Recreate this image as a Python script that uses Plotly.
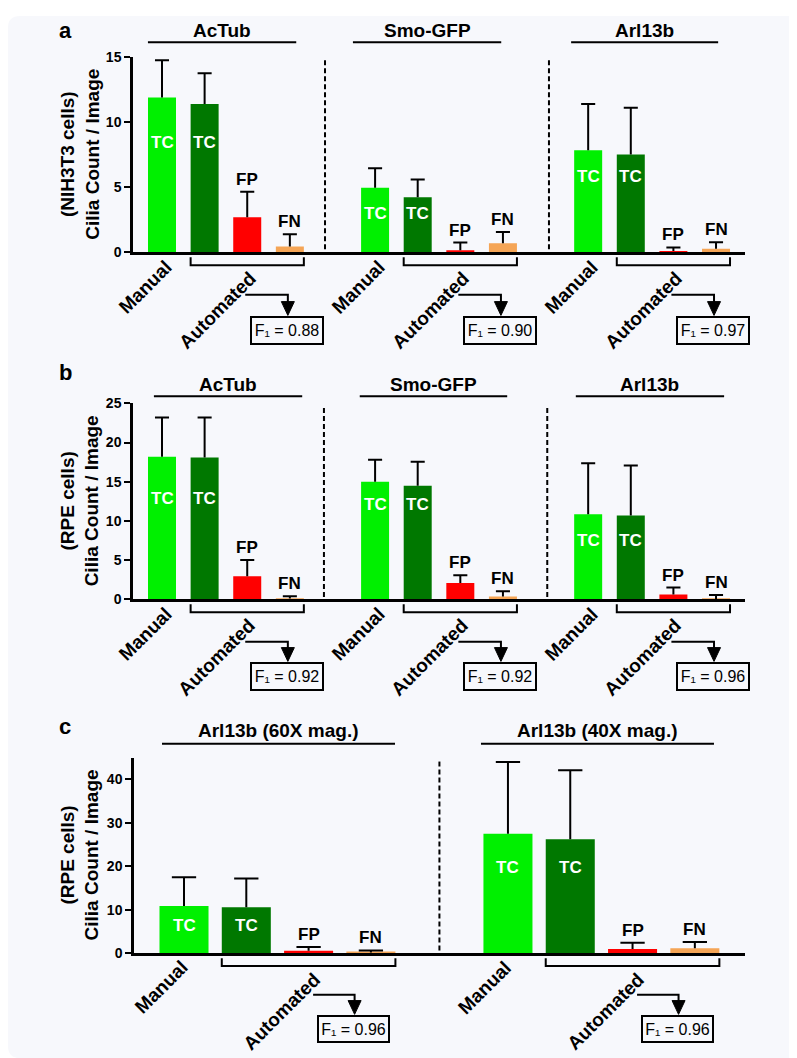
import plotly.graph_objects as go

W, H = 797, 1058
FONT = "Liberation Sans, Arial, sans-serif"

# ---------------- data ----------------
bar_labels = ["TC", "TC", "FP", "FN"]
bar_colors = ["#00f000", "#007800", "#ff0000", "#f5a556"]

nih_markers = ["AcTub", "Smo-GFP", "Arl13b"]
nih_actub = [11.9, 11.4, 2.7, 0.45]
nih_actub_err = [2.85, 2.35, 1.95, 0.95]
nih_smo = [4.97, 4.24, 0.17, 0.70]
nih_smo_err = [1.5, 1.35, 0.58, 0.86]
nih_arl = [7.84, 7.51, 0.10, 0.28]
nih_arl_err = [3.55, 3.6, 0.28, 0.5]
nih_f1 = ["0.88", "0.90", "0.97"]

rpe_markers = ["AcTub", "Smo-GFP", "Arl13b"]
rpe_actub = [18.2, 18.1, 2.93, 0.1]
rpe_actub_err = [5.0, 5.1, 2.1, 0.3]
rpe_smo = [15.0, 14.5, 2.1, 0.37]
rpe_smo_err = [2.8, 3.05, 0.97, 0.67]
rpe_arl = [10.86, 10.69, 0.63, 0.05]
rpe_arl_err = [6.5, 6.37, 0.88, 0.49]
rpe_f1 = ["0.92", "0.92", "0.96"]

mag_groups = ["Arl13b (60X mag.)", "Arl13b (40X mag.)"]
mag_60x = [10.9, 10.6, 0.6, 0.2]
mag_60x_err = [6.6, 6.6, 0.85, 0.45]
mag_40x = [27.5, 26.2, 1.0, 1.15]
mag_40x_err = [16.5, 15.9, 1.4, 1.45]
mag_f1 = ["0.96", "0.96"]

y_ticks_a = [0, 5, 10, 15]
y_ticks_b = [0, 5, 10, 15, 20, 25]
y_ticks_c = [0, 10, 20, 30, 40]

# ---------------- layout config ----------------
panels = [
    dict(letter="a", cells="(NIH3T3 cells)", groups=nih_markers,
         series=[(nih_actub, nih_actub_err), (nih_smo, nih_smo_err), (nih_arl, nih_arl_err)],
         f1=nih_f1, ticks=y_ticks_a, yr=(0, 15),
         xpx=(125, 737), ypx=(41.7, 240), xr=(-0.6805, 13.68),
         starts=[0, 5, 10], bw=0.657, cap=0.33, seps=[3.825, 9.08], sep_top=45,
         head_text_y=15, head_line_y=26.7,
         heads=[(-0.33, 3.15), (4.48, 7.96), (9.6, 13.05)],
         tc_y=[8.44, 3.0, 5.8], letter_xy=(57, 15),
         manual_d=(-17, 36), auto_d=(-30, 59), hline=(2, -2), arrow=(3, -2),
         arrow_dy=43, box_dy=79, box_h=28, box_w=66),
    dict(letter="b", cells="(RPE cells)", groups=rpe_markers,
         series=[(rpe_actub, rpe_actub_err), (rpe_smo, rpe_smo_err), (rpe_arl, rpe_arl_err)],
         f1=rpe_f1, ticks=y_ticks_b, yr=(0, 25),
         xpx=(125, 737), ypx=(393.3, 592.3), xr=(-0.6805, 13.68),
         starts=[0, 5, 10], bw=0.657, cap=0.33, seps=[3.80, 9.04], sep_top=398,
         head_text_y=374, head_line_y=386,
         heads=[(-0.19, 3.29), (4.64, 8.10), (9.71, 13.19)],
         tc_y=[12.9, 12.15, 7.55], letter_xy=(57, 362),
         manual_d=(-17, 36), auto_d=(-31, 59), hline=(2, -2), arrow=(3, -2),
         arrow_dy=43, box_dy=78, box_h=28, box_w=66),
    dict(letter="c", cells="(RPE cells)", groups=mag_groups,
         series=[(mag_60x, mag_60x_err), (mag_40x, mag_40x_err)],
         f1=mag_f1, ticks=y_ticks_c, yr=(0, 45),
         xpx=(126, 737), ypx=(753, 951.7), xr=(-0.8026, 9.005),
         starts=[0, 5.2], bw=0.787, cap=0.39, seps=[4.10], sep_top=757,
         head_text_y=725, head_line_y=739,
         heads=[(-0.353, 3.387), (4.767, 8.507)],
         tc_y=[6.3, 19.7], letter_xy=(57, 721),
         manual_d=(-23, 35), auto_d=(-27, 59), hline=(2, 4.5), arrow=(2, 46),
         arrow_dy=42, box_dy=76.5, box_h=27, box_w=65),
]


def xp(px):
    return px / W


def yp(py):
    return 1 - py / H


def make_X(p):
    x0p, x1p = p["xpx"]
    r0, r1 = p["xr"]
    return lambda v: x0p + (v - r0) / (r1 - r0) * (x1p - x0p)


fig = go.Figure()
annotations = []
shapes = []
layout = {}

# rounded card background
r = 12
cx0, cy0, cx1, cy1 = 0, 0, W, H
card = (f"M{xp(cx0 + r)},{yp(cy0)} L{xp(cx1 - r)},{yp(cy0)} Q{xp(cx1)},{yp(cy0)} {xp(cx1)},{yp(cy0 + r)} "
        f"L{xp(cx1)},{yp(cy1 - r)} Q{xp(cx1)},{yp(cy1)} {xp(cx1 - r)},{yp(cy1)} "
        f"L{xp(cx0 + r)},{yp(cy1)} Q{xp(cx0)},{yp(cy1)} {xp(cx0)},{yp(cy1 - r)} "
        f"L{xp(cx0)},{yp(cy0 + r)} Q{xp(cx0)},{yp(cy0)} {xp(cx0 + r)},{yp(cy0)} Z")
shapes.append(dict(type="path", xref="paper", yref="paper", path=card,
                   fillcolor="#f7f8fc", line=dict(width=0), layer="below"))


def bold(size, color="black"):
    return dict(family=FONT, size=size, color=color, weight="bold")


for i, p in enumerate(panels):
    sfx = "" if i == 0 else str(i + 1)
    xa, ya = "x" + sfx, "y" + sfx
    X = make_X(p)
    x0p, x1p = p["xpx"]
    ytop, zero = p["ypx"]
    r0, r1 = p["xr"]
    px_per_unit = (x1p - x0p) / (r1 - r0)
    bw_px = p["bw"] * px_per_unit

    layout["xaxis" + sfx] = dict(domain=[xp(x0p), xp(x1p)], range=[r0, r1], showline=True,
                                  linewidth=2.5, linecolor="black", showticklabels=False,
                                  ticks="", showgrid=False, zeroline=False, anchor=ya,
                                  fixedrange=True)
    layout["yaxis" + sfx] = dict(domain=[yp(zero), yp(ytop)], range=list(p["yr"]),
                                  tickvals=p["ticks"], ticks="outside", ticklen=6, tickwidth=2,
                                  tickcolor="black", showline=True, linewidth=2.5,
                                  linecolor="black", showgrid=False, zeroline=False,
                                  tickfont=bold(14), anchor=xa, fixedrange=True)

    for g, (vals, errs) in enumerate(p["series"]):
        s = p["starts"][g]
        xs = [s + k for k in range(4)]
        fig.add_trace(go.Bar(x=xs, y=vals, width=p["bw"],
                             marker=dict(color=bar_colors, line=dict(width=0)),
                             xaxis=xa, yaxis=ya, showlegend=False, hoverinfo="skip"))
        ex, ey = [], []
        for xv, v, e in zip(xs, vals, errs):
            ex += [xv, xv, None, xv - p["cap"] / 2, xv + p["cap"] / 2, None]
            ey += [v, v + e, None, v + e, v + e, None]
        fig.add_trace(go.Scatter(x=ex, y=ey, mode="lines", line=dict(color="black", width=2),
                                 xaxis=xa, yaxis=ya, showlegend=False, hoverinfo="skip"))
        # bar labels
        for k in range(4):
            if k < 2:
                annotations.append(dict(x=xs[k], y=p["tc_y"][g], xref=xa, yref=ya,
                                        text=bar_labels[k], showarrow=False,
                                        font=bold(17, "white"), xanchor="center",
                                        yanchor="middle"))
            else:
                annotations.append(dict(x=xs[k], y=vals[k] + errs[k], xref=xa, yref=ya,
                                        text=bar_labels[k], showarrow=False, font=bold(17),
                                        xanchor="center", yanchor="bottom", yshift=1))
        # group header
        h0, h1 = p["heads"][g]
        annotations.append(dict(x=xp((X(h0) + X(h1)) / 2), y=yp(p["head_text_y"]),
                                xref="paper", yref="paper", text=p["groups"][g],
                                showarrow=False, font=bold(19), xanchor="center",
                                yanchor="middle"))
        shapes.append(dict(type="line", xref="paper", yref="paper",
                           x0=xp(X(h0)), x1=xp(X(h1)),
                           y0=yp(p["head_line_y"]), y1=yp(p["head_line_y"]),
                           line=dict(color="black", width=2)))
        # rotated category labels
        annotations.append(dict(x=xp(X(s) + p["manual_d"][0]), y=yp(zero + p["manual_d"][1]),
                                xref="paper", yref="paper", text="Manual", textangle=-45,
                                showarrow=False, font=bold(19), xanchor="center",
                                yanchor="middle"))
        annotations.append(dict(x=xp(X(s + 2) + p["auto_d"][0]), y=yp(zero + p["auto_d"][1]),
                                xref="paper", yref="paper", text="Automated", textangle=-45,
                                showarrow=False, font=bold(19), xanchor="center",
                                yanchor="middle"))
        # bracket under automated bars
        bl = X(s + 1) - bw_px / 2
        br = X(s + 3) + bw_px / 2
        path = (f"M{xp(bl)},{yp(zero + 5)} L{xp(bl)},{yp(zero + 13)} "
                f"L{xp(br)},{yp(zero + 13)} L{xp(br)},{yp(zero + 5)}")
        shapes.append(dict(type="path", xref="paper", yref="paper", path=path,
                           line=dict(color="black", width=2)))
        # elbow arrow to F1 box
        ax_px = X(s + p["arrow"][0]) + p["arrow"][1]
        hl_px = X(s + p["hline"][0]) + p["hline"][1]
        ly = zero + p["arrow_dy"]
        box_top = zero + p["box_dy"] - p["box_h"] / 2
        elbow = (f"M{xp(hl_px)},{yp(ly)} L{xp(ax_px)},{yp(ly)} "
                 f"L{xp(ax_px)},{yp(box_top - 14)}")
        shapes.append(dict(type="path", xref="paper", yref="paper", path=elbow,
                           line=dict(color="black", width=2)))
        tri = (f"M{xp(ax_px - 6.5)},{yp(box_top - 15)} L{xp(ax_px + 6.5)},{yp(box_top - 15)} "
               f"L{xp(ax_px)},{yp(box_top - 1)} Z")
        shapes.append(dict(type="path", xref="paper", yref="paper", path=tri,
                           fillcolor="black", line=dict(color="black", width=1)))
        annotations.append(dict(x=xp(ax_px - 1), y=yp(zero + p["box_dy"]),
                                xref="paper", yref="paper",
                                text=f"F\u2081 = {p['f1'][g]}", showarrow=False,
                                font=dict(family=FONT, size=16, color="black"),
                                bordercolor="black", borderwidth=2, borderpad=2,
                                width=p["box_w"], height=p["box_h"] - 7,
                                xanchor="center", yanchor="middle"))

    # dashed separators
    for sp in p["seps"]:
        shapes.append(dict(type="line", xref="paper", yref="paper",
                           x0=xp(X(sp)), x1=xp(X(sp)), y0=yp(p["sep_top"]), y1=yp(zero),
                           line=dict(color="black", width=2, dash="5px,3px")))
    # y-axis title
    annotations.append(dict(x=xp(72), y=yp((ytop + zero) / 2), xref="paper", yref="paper",
                            text=f"{p['cells']}<br>Cilia Count / Image", textangle=-90,
                            showarrow=False, font=bold(19), xanchor="center",
                            yanchor="middle"))
    # panel letter
    annotations.append(dict(x=xp(p["letter_xy"][0]), y=yp(p["letter_xy"][1]),
                            xref="paper", yref="paper", text=p["letter"], showarrow=False,
                            font=bold(22), xanchor="center", yanchor="middle"))

fig.update_layout(**layout)
fig.update_layout(width=W, height=H, autosize=False,
                  margin=dict(l=0, r=0, t=0, b=0),
                  paper_bgcolor="white", plot_bgcolor="rgba(0,0,0,0)",
                  barmode="overlay", annotations=annotations, shapes=shapes,
                  font=dict(family=FONT), showlegend=False)

fig.write_html("out.html")
